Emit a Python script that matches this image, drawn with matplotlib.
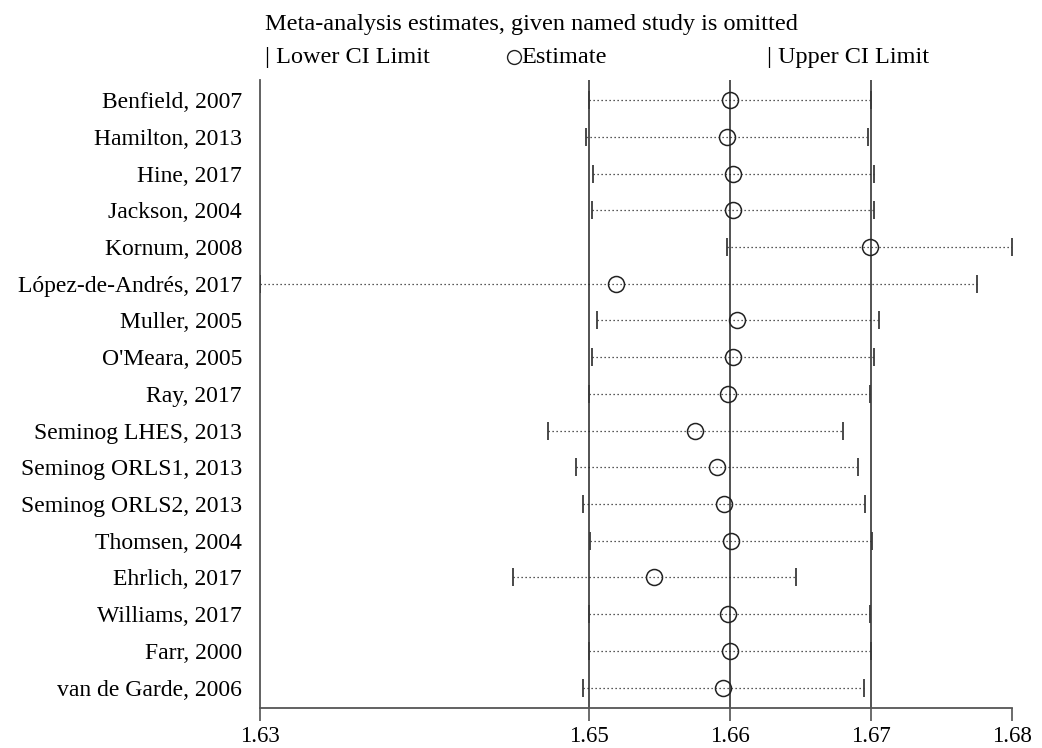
import matplotlib
matplotlib.use('Agg')
import matplotlib.pyplot as plt
from matplotlib.lines import Line2D
from matplotlib.ticker import FormatStrFormatter

plt.rcParams['font.family'] = ['Liberation Serif', 'DejaVu Sans']

# studies, top to bottom
studies = ['Benfield, 2007', 'Hamilton, 2013', 'Hine, 2017', 'Jackson, 2004',
           'Kornum, 2008', 'López-de-Andrés, 2017', 'Muller, 2005', "O'Meara, 2005",
           'Ray, 2017', 'Seminog LHES, 2013', 'Seminog ORLS1, 2013',
           'Seminog ORLS2, 2013', 'Thomsen, 2004', 'Ehrlich, 2017',
           'Williams, 2017', 'Farr, 2000', 'van de Garde, 2006']

# estimate with that study left out, and its CI limits
lower = [1.6500, 1.6498, 1.6503, 1.6502, 1.6598, 1.6267, 1.6506, 1.6502, 1.6500,
         1.6471, 1.6491, 1.6496, 1.6501, 1.6446, 1.6500, 1.6500, 1.6496]
est = [1.6600, 1.6598, 1.6602, 1.6602, 1.6699, 1.6519, 1.6605, 1.6602, 1.6599,
       1.6575, 1.6591, 1.6596, 1.6601, 1.6546, 1.6599, 1.6600, 1.6595]
upper = [1.6700, 1.6698, 1.6702, 1.6702, 1.6800, 1.6775, 1.6706, 1.6702, 1.6699,
         1.6680, 1.6691, 1.6696, 1.6701, 1.6647, 1.6699, 1.6700, 1.6695]

# combined estimate with all studies
overall_lower = 1.6500
overall_est = 1.6600
overall_upper = 1.6700

fig = plt.figure(figsize=(10.42, 7.48), dpi=100)
ax = fig.add_axes([260 / 1042, 1 - 707.7 / 748, (1012 - 260) / 1042, (707.7 - 80) / 748])

n = len(studies)
ypos = list(range(n, 0, -1))
line_col = '#3a3a3a'

for v in (overall_lower, overall_est, overall_upper):
    ax.axvline(v, color='#444444', lw=1.3, zorder=1)

for y, lo, e, hi in zip(ypos, lower, est, upper):
    ax.plot([lo, hi], [y, y], color='#222222', lw=0.9, ls=(0, (1, 2.2)), zorder=2)
    ax.plot([lo, hi], [y, y], ls='none', marker='|', ms=12.5, mew=1.3,
            color=line_col, zorder=3)
    ax.plot(e, y, ls='none', marker='o', ms=11.5, mfc='none', mec='#222222',
            mew=1.1, zorder=4)

ax.set_ylim(0.45, n + 0.55)
ax.set_yticks(ypos)
ax.set_yticklabels(studies, fontsize=17)
ax.tick_params(axis='y', length=0, pad=13)

xmin = min(lower)
xmax = max(upper)
ax.set_xlim(xmin, xmax)
ax.set_xticks([xmin, overall_lower, overall_est, overall_upper, xmax])
ax.xaxis.set_major_formatter(FormatStrFormatter('%.2f'))
ax.tick_params(axis='x', labelsize=16.5, length=9.5, width=1.1, color='#444444', pad=4)

for s in ('top', 'right'):
    ax.spines[s].set_visible(False)
for s in ('left', 'bottom'):
    ax.spines[s].set_color('#555555')
    ax.spines[s].set_linewidth(1.3)

fig.text(265 / 1042, 1 - 30 / 748, 'Meta-analysis estimates, given named study is omitted',
         fontsize=17.5, va='baseline', ha='left')
leg_y = 1 - 63 / 748
fig.text(265 / 1042, leg_y, '| Lower CI Limit', fontsize=17.5, va='baseline', ha='left')
fig.add_artist(Line2D([514 / 1042], [1 - 57 / 748], marker='o', ms=10, mfc='none',
                      mec='#222222', mew=1.0, transform=fig.transFigure))
fig.text(521 / 1042, leg_y, 'Estimate', fontsize=17.5, va='baseline', ha='left')
fig.text(767 / 1042, leg_y, '| Upper CI Limit', fontsize=17.5, va='baseline', ha='left')

fig.savefig('out.png', dpi=100)
